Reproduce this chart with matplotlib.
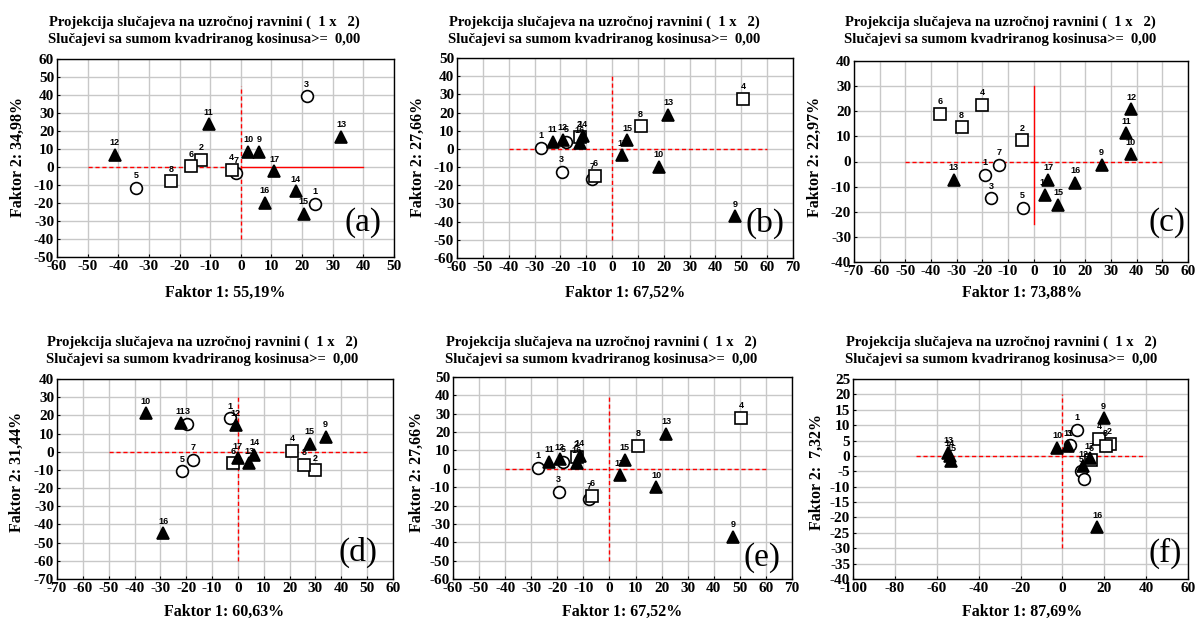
import matplotlib
matplotlib.use("Agg")
import matplotlib.pyplot as plt
import numpy as np

plt.rcParams["axes.unicode_minus"] = False

W, H = 1201, 622

cases = list(range(1, 18))
# marker groups: circles 1,3,5,7; squares 2,4,6,8; triangles 9-17
circle_ids = [1, 3, 5, 7]
square_ids = [2, 4, 6, 8]
triangle_ids = [9, 10, 11, 12, 13, 14, 15, 16, 17]

# Factor coordinates per panel (case 1..17)
a_x = [24.2, -12.9, 21.5, -3.0, -34.2, -16.1, -1.6, -22.7, 6.0, 2.4, -10.5, -41.2, 32.7, 18.0, 20.5, 7.8, 10.9]
a_y = [-20.5, 4.1, 39.3, -1.5, -11.5, 0.4, -3.4, -8.0, 8.4, 8.4, 23.8, 6.9, 16.8, -13.6, -26.0, -19.9, -2.4]

b_x = [-27.5, -12.6, -19.5, 50.6, -17.8, -6.7, -7.7, 11.0, 47.5, 18.0, -23.0, -19.0, 21.7, -11.4, 5.8, -12.5, 3.9]
b_y = [0.5, 6.6, -12.5, 27.7, 3.8, -14.7, -16.3, 12.5, -37.0, -10.0, 3.8, 5.1, 18.9, 7.0, 4.8, 3.3, -3.5]

c_x = [-18.9, -4.7, -16.5, -20.0, -4.4, -36.5, -13.5, -28.1, 26.4, 37.7, 35.8, 38.0, -31.2, 4.3, 9.5, 16.1, 5.6]
c_y = [-5.3, 8.5, -14.6, 22.6, -18.5, 19.0, -1.2, 13.6, -1.2, 2.9, 11.2, 20.7, -7.2, -13.2, -17.2, -8.4, -7.4]

d_x = [-3.1, 29.8, -19.6, 21.1, -21.5, -1.9, -17.4, 25.5, 33.9, -35.7, -22.2, -0.9, 4.3, 6.4, 27.7, -28.9, 0.0]
d_y = [18.3, -10.3, 15.2, 0.4, -10.8, -6.4, -4.6, -7.1, 8.2, 21.1, 15.6, 14.6, -6.4, -1.8, 4.2, -44.9, -3.7]

e_x = list(b_x)
e_y = list(b_y)

f_x = [7.2, 22.6, 3.5, 17.5, 8.8, 13.9, 10.2, 20.7, 19.7, -2.5, 2.7, 10.0, -54.5, -53.8, -53.2, 16.6, 13.0]
f_y = [8.4, 4.0, 3.5, 5.5, -5.0, -1.4, -7.4, 3.2, 12.2, 2.7, 3.2, -3.4, 1.0, 0.0, -1.5, -23.2, -0.8]

x_labels = ["Faktor 1: 55,19%", "Faktor 1: 67,52%", "Faktor 1: 73,88%",
            "Faktor 1: 60,63%", "Faktor 1: 67,52%", "Faktor 1: 87,69%"]
y_labels = ["Faktor 2: 34,98%", "Faktor 2: 27,66%", "Faktor 2: 22,97%",
            "Faktor 2: 31,44%", "Faktor 2: 27,66%", "Faktor 2:  7,32%"]
panel_tags = ["(a)", "(b)", "(c)", "(d)", "(e)", "(f)"]
title1 = "Projekcija slučajeva na uzročnoj ravnini (  1 x   2)"
title2 = "Slučajevi sa sumom kvadriranog kosinusa>=  0,00"

xlims = [(-60, 50), (-60, 70), (-70, 60), (-70, 60), (-60, 70), (-100, 60)]
ylims = [(-50, 60), (-60, 50), (-40, 40), (-70, 40), (-60, 50), (-40, 25)]
xsteps = [10, 10, 10, 10, 10, 20]
ysteps = [10, 10, 10, 10, 10, 5]
# reference cross extents: (hx0, hx1, vy0, vy1)
cross = [(-50, 40, -40, 45), (-40, 60, -50, 40), (-50, 50, -25, 30),
         (-50, 50, -60, 30), (-40, 60, -50, 40), (-70, 40, -30, 20)]
# line styles: (horizontal-left, horizontal-right, vertical)
dash = (0, (3, 2))
cross_styles = [(dash, "-", dash), (dash, dash, dash), (dash, dash, "-"),
                (dash, dash, dash), (dash, dash, dash), (dash, dash, dash)]

# axes boxes in pixels: left, right, top, bottom
boxes = [(57, 394, 59, 257), (457, 793, 58, 258), (854, 1188, 61, 262),
         (57, 393, 379, 579), (453, 792, 377, 579), (853, 1188, 379, 579)]
title_cx = [204, 604, 1000, 202, 601, 1001]
title_y = [(22, 40), (22, 40), (22, 40), (342, 360), (342, 360), (342, 360)]
xlab_pos = [(225, 293), (625, 293), (1022, 293), (224, 612), (622, 612), (1022, 612)]
ylab_pos = [(18, 157), (418, 157), (815, 157), (17, 472), (417, 472), (817, 472)]
tag_pos = [(363, 223), (765, 223), (1167, 223), (358, 552), (762, 558), (1165, 553)]

data = [(a_x, a_y), (b_x, b_y), (c_x, c_y), (d_x, d_y), (e_x, e_y), (f_x, f_y)]

serif = ["Liberation Serif", "DejaVu Serif"]
sans = ["Liberation Sans", "DejaVu Sans"]

fig = plt.figure(figsize=(W / 100, H / 100), dpi=100)


def fx(px):
    return px / W


def fy(py):
    return 1 - py / H


for k in range(6):
    l, r, t, b = boxes[k]
    ax = fig.add_axes([fx(l), fy(b), (r - l) / W, (b - t) / H])
    xs, ys = data[k]
    ax.set_xlim(*xlims[k])
    ax.set_ylim(*ylims[k])
    ax.set_xticks(np.arange(xlims[k][0], xlims[k][1] + 0.1, xsteps[k]))
    ax.set_yticks(np.arange(ylims[k][0], ylims[k][1] + 0.1, ysteps[k]))
    ax.grid(True, color="#c8c8c8", lw=1.0)
    ax.set_axisbelow(True)
    for sp in ax.spines.values():
        sp.set_color("black")
        sp.set_linewidth(1.0)
    ax.tick_params(direction="in", length=2, width=0.8, pad=2)
    for lab in ax.get_xticklabels() + ax.get_yticklabels():
        lab.set_fontfamily(serif)
        lab.set_fontweight("bold")
        lab.set_fontsize(11)

    hx0, hx1, vy0, vy1 = cross[k]
    sl, sr, sv = cross_styles[k]
    ax.plot([hx0, 0], [0, 0], color="red", ls=sl, lw=1.0, zorder=1.5)
    ax.plot([0, hx1], [0, 0], color="red", ls=sr, lw=1.0, zorder=1.5)
    ax.plot([0, 0], [vy0, vy1], color="red", ls=sv, lw=1.0, zorder=1.5)

    for ids, mk, fc, ms in [(circle_ids, "o", "white", 8.5),
                            (square_ids, "s", "white", 8.5),
                            (triangle_ids, "^", "black", 9)]:
        px = [xs[i - 1] for i in ids]
        py = [ys[i - 1] for i in ids]
        ax.plot(px, py, ls="none", marker=mk, mfc=fc, mec="black", mew=1.2,
                ms=ms, zorder=3)
    for i in cases:
        ax.annotate(str(i), (xs[i - 1], ys[i - 1]), xytext=(0, 5.5),
                    textcoords="offset points", ha="center", va="bottom",
                    fontsize=6.5, fontweight="bold", family=sans, zorder=4)

    fig.text(fx(title_cx[k]), fy(title_y[k][0]), title1, ha="center", va="center",
             fontsize=10.5, fontweight="bold", family=serif)
    fig.text(fx(title_cx[k]), fy(title_y[k][1]), title2, ha="center", va="center",
             fontsize=10.5, fontweight="bold", family=serif)
    fig.text(fx(xlab_pos[k][0]), fy(xlab_pos[k][1]), x_labels[k], ha="center",
             va="center", fontsize=11.5, fontweight="bold", family=serif)
    fig.text(fx(ylab_pos[k][0]), fy(ylab_pos[k][1]), y_labels[k], ha="center",
             va="center", rotation=90, fontsize=11.5, fontweight="bold", family=serif)
    fig.text(fx(tag_pos[k][0]), fy(tag_pos[k][1]), panel_tags[k], ha="center",
             va="center", fontsize=24, family=serif)

fig.savefig("out.png", dpi=100)
